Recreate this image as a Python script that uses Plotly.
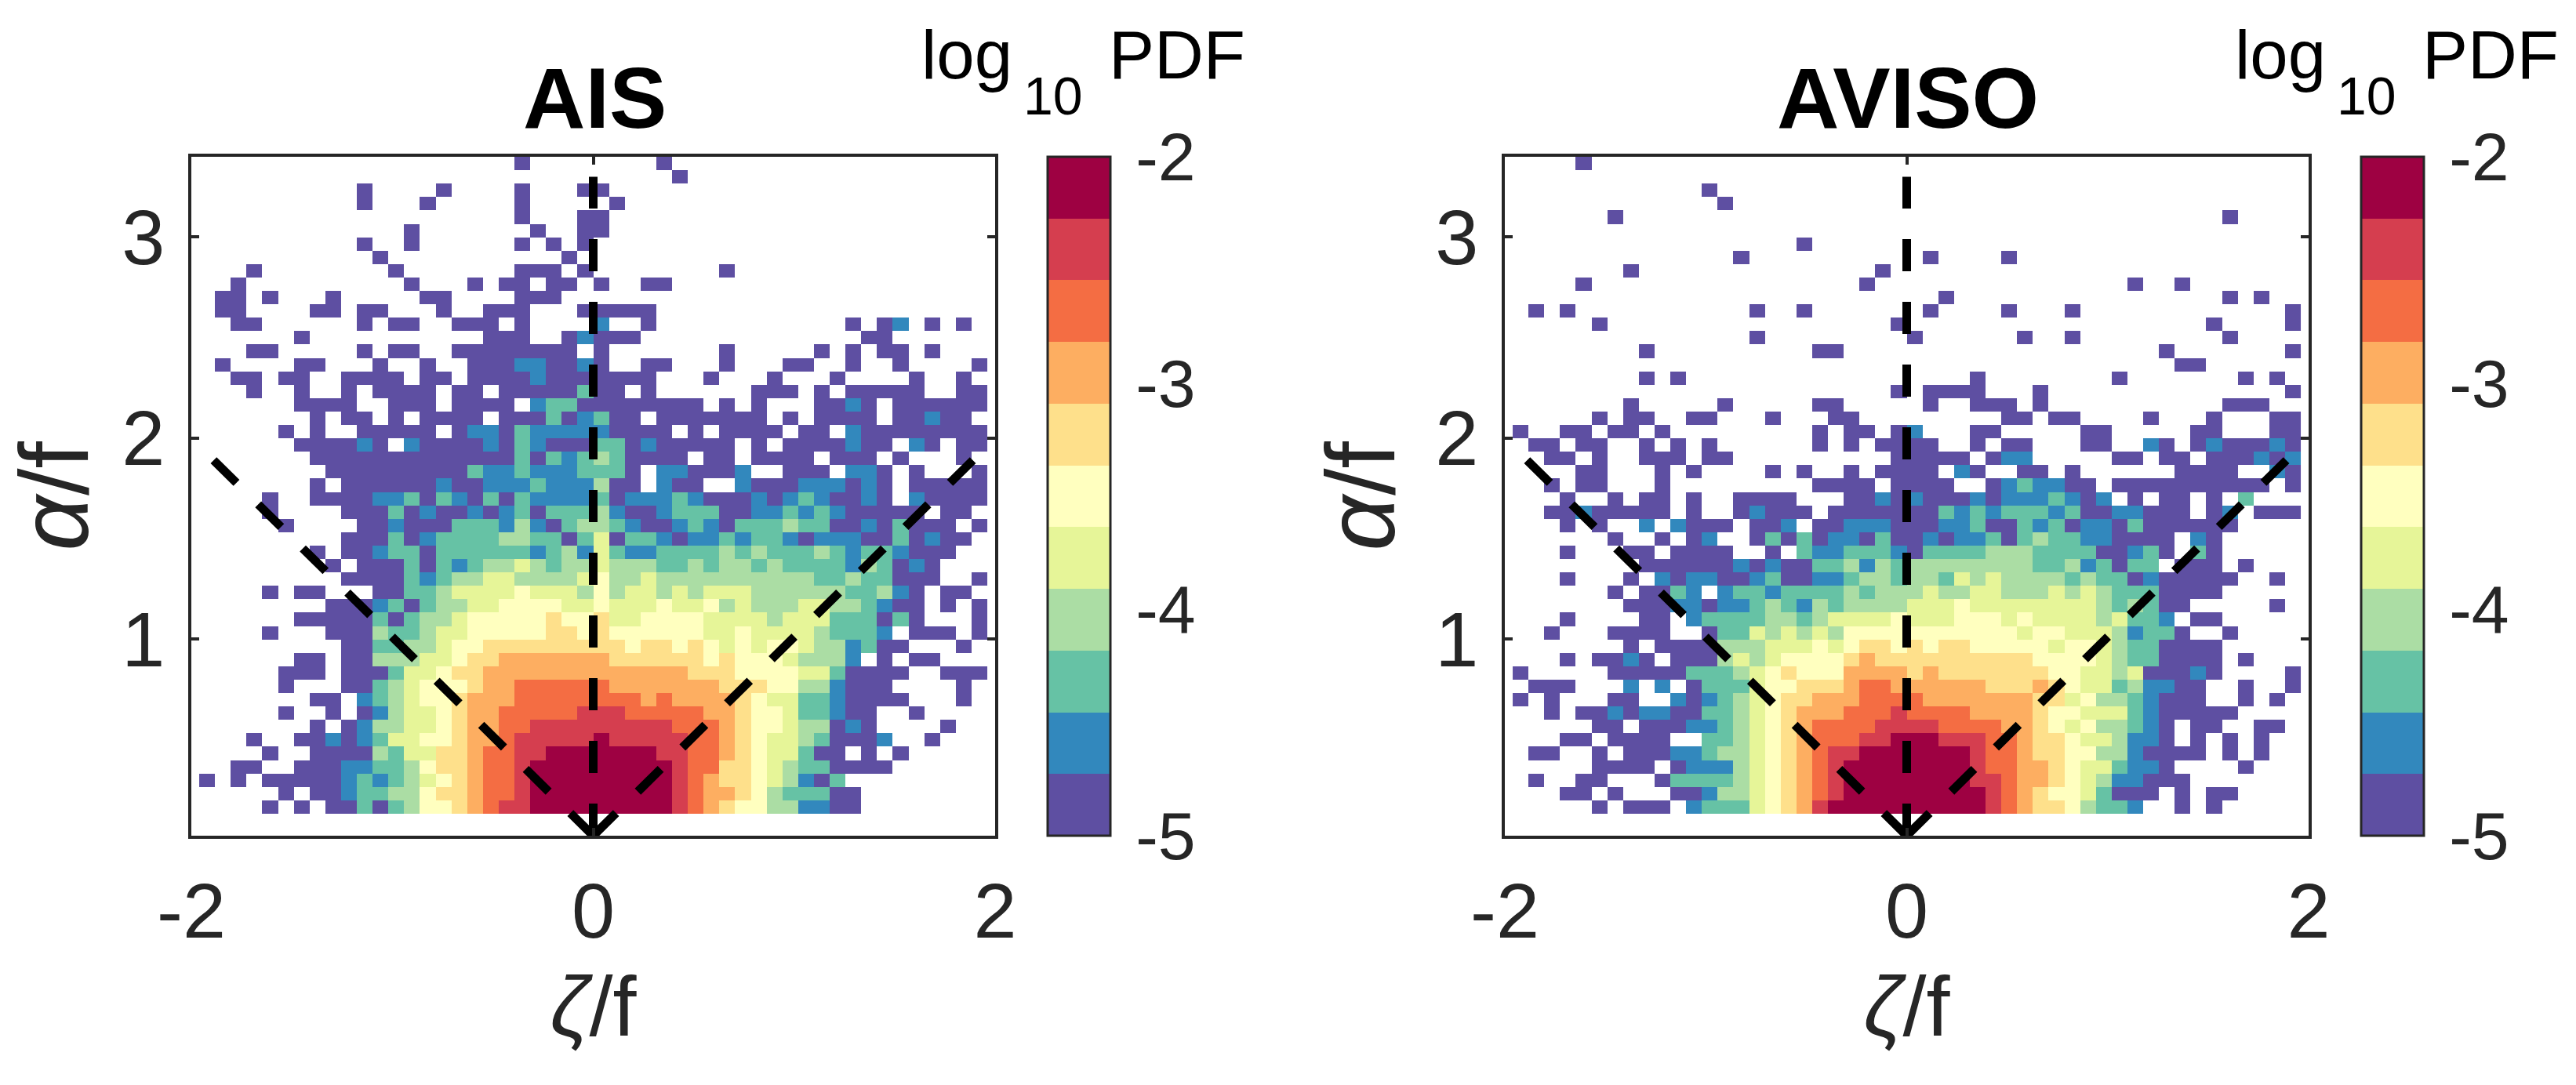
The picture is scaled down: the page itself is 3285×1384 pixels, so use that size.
import numpy as np
import plotly.graph_objects as go

W, H = 3285, 1384

# level per cell, top row first: . empty, 0 purple ... 9 red, a crimson
AIS_ROWS = [
    "..... ..... ..... ..... 0.... ....0 ..... ..... ..... .....",
    "..... ..... ..... ..... ..... ..... 0.... ..... ..... .....",
    "..... ..... 0.... 0.... 0...0 0.... ..... ..... ..... .....",
    "..... ..... 0...0 ..... 0.... .0... ..... ..... ..... .....",
    "..... ..... ..... ..... 0...0 0.... ..... ..... ..... .....",
    "..... ..... ...0. ..... .0..0 0.... ..... ..... ..... .....",
    "..... ..... 0..0. ..... 0.0.0 ..... ..... ..... ..... .....",
    "..... ..... .0... ..... ...0. ..... ..... ..... ..... .....",
    "...0. ..... ..0.. ..... 000.0 ..... ...0. ..... ..... .....",
    "..0.. ..... ...0. ..0.0 0.00. 0..00 ..... ..... ..... .....",
    ".00.0 ...0. ....0 0.... 000.. ..... ..... ..... ..... .....",
    ".00.. ..00. 00... 0..00 0...0 0000. ..... ..... ..... .....",
    "..00. ..... 0.00. .000. 0.... 1..0. ..... ..... .0.01 .0.0.",
    "..... .0... ..... ...00 0..01 000.. ..... ..... ..00. .....",
    "...00 ..... 0.00. .0000 0000. 0.... ...0. ....0 .0.00 .0...",
    ".0... .00.. .0..0 ..000 11001 0..00 ...0. ..00. .0..0 ....0",
    "..00. 00..0 000.0 0.000 01000 0000. ..0.. .0... 0.... 0..0.",
    "...0. .0..0 .0000 .00.0 00002 00.0. ..... 000.0 .0000 0..00",
    "..... .0000 ..000 .0000 .1220 00000 00.0. 0...0 010.0 00000",
    "..... ..0.0 0.0.0 000.0 00201 200.0 00000 0.0.0 000.0 0100.",
    "..... 0.0.. 00000 .0110 21111 10000 .0.00 00.00 .1000 00000",
    "..... .0000 10.10 00010 21000 22010 0000. 0.000 0100. 10.00",
    "..... ..000 00000 00000 20212 32000 0.00. 0000. 000.0 ...0.",
    "..... ...00 00000 00211 21112 220.1 10001 ..000 .110. 0...0",
    "..... ..0.0 00000 10011 12111 300.1 00..1 00011 1010. 00000",
    "....0 ..000 01120 21020 21111 20111 21000 10121 0010. 10000",
    "....0 ....0 00201 00101 20222 31001 22200 11212 10000 0.00.",
    "..... 0.... 00100 02221 31023 32100 12102 22322 00102 000.0",
    "..... ....0 00201 22223 32202 40221 01121 22101 11002 0100.",
    "..... ..0.0 01220 22222 21231 42112 22232 32223 21221 000..",
    "..... ...0. 00020 21233 43233 43332 23233 23222 21320 10...",
    "..... ....0 00021 23344 33334 53343 33333 33332 23220 00..0",
    "....0 .00.. .0022 34444 54443 53443 43444 33333 32231 0.00.",
    "..... ...00 01202 33445 55544 54445 44534 33344 33210 0.0.0",
    "..... .0000 02023 34555 55655 64455 55444 43444 22202 0...0",
    "....0 ...00 03223 44555 55665 65555 55445 44443 2221. 000.0",
    "..... ....0 02233 45566 66666 66566 56545 45543 31200 ...0.",
    "..... .00.0 03334 45667 77777 76666 66565 55433 31.0. 00...",
    "..... 000.0 00244 56677 77777 77777 76665 55544 20000 ..000",
    "..... 0...0 02345 55677 88888 87777 77766 65533 1000. ...0.",
    "..... ..00. 12345 56777 88888 88878 77776 54422 10000 ...0.",
    "..... 0..0. 01344 56778 88889 99888 88776 55422 100.. 0....",
    "..... ..0.0 13344 56778 89999 99999 88876 55433 010.. ..0..",
    "...0. .0010 12445 56778 99999 a9999 98876 54432 0001. .0...",
    "....0 ..000 03244 66788 99aaa aaaa9 98876 54420 0.0.0 .....",
    "..00. .0001 12235 66788 9aaaa aaaaa 98866 54322 0000. .....",
    "0.0.0 00001 21234 56788 9aaaa aaaaa 98766 54310 2.... .....",
    "..... 0.001 22335 66788 9aaaa aaaaa 98776 53222 00... .....",
    "....0 .0.00 20235 56789 9aaaa aaaaa 98765 53311 00... .....",
]

AVISO_ROWS = [
    "....0 ..... ..... ..... ..... ..... ..... ..... ..... .....",
    "..... ..... ..... ..... ..... ..... ..... ..... ..... .....",
    "..... ..... ..0.. ..... ..... ..... ..... ..... ..... .....",
    "..... ..... ...0. ..... ..... ..... ..... ..... ..... .....",
    "..... .0... ..... ..... ..... ..... ..... ..... ..... 0....",
    "..... ..... ..... ..... ..... ..... ..... ..... ..... .....",
    "..... ..... ..... ...0. ..... ..... ..... ..... ..... .....",
    "..... ..... ....0 ..... ..... .0... .0... ..... ..... .....",
    "..... ..0.. ..... ..... ...0. ..... ..... ..... ..... .....",
    "....0 ..... ..... ..... ..0.. ..... ..... ....0 ..0.. .....",
    "..... ..... ..... ..... ..... ..0.. ..... ..... ..... 0.0..",
    ".0.0. ..... ..... 0..0. ..... .0... .0... 0.... ..... ....0",
    "..... 0.... ..... ..... ....0 ..... ..... ..... ....0 ....0",
    "..... ..... ..... 0.... ..... 0.... ..0.. 0.... ..... 0....",
    "..... ...0. ..... ....0 0.... ..... ..... ..... .0... ....0",
    "..... ..... ..... ..... ..... ..... ..... ..... ..00. .....",
    "..... ...0. 0.... ..... ..... ....0 ..... ...0. ..... .0.0.",
    "..... ..... ..... ..... ....0 .0000 ...0. ..... ..... ....0",
    "..... ..0.. ...0. ....0 0.... .0..0 00.0. ..... ..... 000..",
    "..... 0.00. .00.. .0... 00... ..... .00.0 0.... 0...0 ...00",
    "0..00 .00.0 ..... ....0 .00.0 1...0 0.... .00.. ...00 ...00",
    ".00.0 0..0. 0.0.. ....0 .0.00 00..0 .00.. .00.. 10.01 00010",
    "..00. 0..00 0.00. ..... ....0 0000. 011.. ...00 .00.0 00101",
    "....0 0...0 .0... .0.0. .0.00 00.10 ..00. 0.... ..000 0..10",
    "..0.0 0...0 ..... ....0 000.0 000.. 01211 00.00 00000 000.0",
    "...0. .0.00 .0..0 000.. .0010 10001 01112 101.0 .00.0 .2...",
    "..001 00000 .0..0 1000. 00000 00212 12221 20011 000.0 1.000",
    "...0. 0..1. 1000. 001.0 01110 00112 00212 01102 00000 0....",
    "..... .0..0 .01.. 02020 11020 01011 20232 21100 00.10 .....",
    "...0. ..00. 0000. .0.21 12221 02222 33322 22001 20.20 .....",
    "..... ...00 00001 01002 23132 33333 33322 31202 2.000 .0...",
    "...0. ..0.1 01100 12001 12332 33243 43333 23220 10000 0..0.",
    "..... .0.00 21.12 21222 23233 34334 43334 34322 20000 .....",
    "..... ..000 11011 23213 23333 44454 44444 44323 200.. ...0.",
    "...0. ...00 .1222 23323 44445 44455 54544 44342 21.00 .....",
    "..0.. .0000 ..022 43434 35555 55555 55455 44431 220.. 0....",
    "..... ..0.0 00033 34445 45665 65665 55554 55432 20000 .....",
    "...0. 0010. 00034 34555 56766 66666 66655 55432 20000 .0...",
    "0.... .0000 02223 45655 57777 67666 66665 54434 00010 ....0",
    ".000. ..1.1 .0222 45566 67887 77777 66676 54423 1100. .0..0",
    "0.0.. .00.. 10123 45667 77888 87777 77766 45332 1000. .0.0.",
    "..0.0 01011 00223 45677 78889 88887 77765 54442 10000 0....",
    "..... 00.00 01123 45678 88899 99888 87765 45332 10.00 ..00.",
    "...00 .0000 ..223 45678 8899a aa999 88766 54431 10.0. 0.0..",
    ".00.. 0.000 11233 45678 99aaa aaaa9 88766 55331 0000. 0.0..",
    "..... 0000. 01113 45678 9aaaa aaaa9 88776 54421 10... .0...",
    ".0..0 0...0 22223 45678 9aaaa aaaa9 98776 54311 000.. .....",
    "...00 .0... 00133 45678 9aaaa aaaaa 98765 54200 0.0.0 0....",
    "..... 0.000 .1222 45679 aaaaa aaaaa 98766 53221 ..0.0 .....",
]

LEVEL_COLORS = ["#5E4FA2", "#3288BD", "#66C2A5", "#ABDDA4", "#E6F598", "#FFFFBF",
                "#FEE08B", "#FDAE61", "#F46D43", "#D53E4F", "#9E0142"]
PDF_MIN, PDF_MAX = -5, -2
PDF_TICKS = [-5, -4, -3, -2]
PDF_TICK_LABELS = ["-5", "-4", "-3", "-2"]

X_TICKS = [-2, 0, 2]
X_TICK_LABELS = ["-2", "0", "2"]
Y_TICKS = [1, 2, 3]
Y_TICK_LABELS = ["1", "2", "3"]

# bin edges of the histogram
ZETA_EDGES = np.linspace(-1.9608, 1.9608, 51)
ALPHA_EDGES = np.linspace(0.129, 3.40, 50)

# dashed guide lines
VERT_X, VERT_Y = [0, 0], [0.02, 3.30]
LEFT_X, LEFT_Y = [0, -1.9], [0.02, 1.9]
RIGHT_X, RIGHT_Y = [0, 1.9], [0.02, 1.9]

PANELS = ["AIS", "AVISO"]
PANEL_SHIFT = 1675
INK = "#262626"
FONT = "Liberation Sans"


def rows_to_z(rows):
    z = []
    for row in rows[::-1]:
        cells = row.replace(" ", "")
        assert len(cells) == 50, row
        step = (PDF_MAX - PDF_MIN) / len(LEVEL_COLORS)
        z.append([None if c == "." else PDF_MIN + (int(c, 16) + 0.5) * step for c in cells])
    return z


def stepped_scale():
    n = len(LEVEL_COLORS)
    scale = []
    for i, color in enumerate(LEVEL_COLORS):
        scale.append([i / n, color])
        scale.append([(i + 1) / n, color])
    return scale


fig = go.Figure()
top, bottom = 200, 1066
annotations = []

for i, (name, rows) in enumerate(zip(PANELS, [AIS_ROWS, AVISO_ROWS])):
    shift = PANEL_SHIFT * i
    suffix = "" if i == 0 else "2"

    fig.add_trace(go.Heatmap(
        x=ZETA_EDGES,
        y=ALPHA_EDGES,
        z=rows_to_z(rows),
        zmin=PDF_MIN,
        zmax=PDF_MAX,
        colorscale=stepped_scale(),
        xaxis="x" + suffix,
        yaxis="y" + suffix,
        colorbar=dict(
            x=(1336 + shift) / W,
            xanchor="left",
            xpad=0,
            y=1 - top / H,
            yanchor="top",
            ypad=0,
            len=(bottom - top) / H,
            thickness=80,
            outlinecolor=INK,
            outlinewidth=3,
            tickmode="array",
            tickvals=PDF_TICKS,
            ticktext=PDF_TICK_LABELS,
            ticks="outside",
            ticklen=14,
            tickcolor="rgba(0,0,0,0)",
            tickfont=dict(size=86, color=INK, family=FONT),
        ),
    ))

    for gx, gy in [(VERT_X, VERT_Y), (LEFT_X, LEFT_Y), (RIGHT_X, RIGHT_Y)]:
        fig.add_trace(go.Scatter(
            x=gx, y=gy, mode="lines",
            line=dict(color="black", width=11, dash="41px,39px"),
            xaxis="x" + suffix, yaxis="y" + suffix,
            cliponaxis=False, showlegend=False, hoverinfo="skip",
        ))

    axis_common = dict(
        showline=True, linecolor=INK, linewidth=4, mirror="allticks",
        ticks="inside", ticklen=10, tickwidth=4, tickcolor=INK,
        showgrid=False, zeroline=False, tickmode="array",
        tickfont=dict(size=99, color=INK, family=FONT),
    )
    fig.update_layout({
        "xaxis" + suffix: dict(
            axis_common,
            domain=[(244 + shift) / W, (1269 + shift) / W],
            range=[-2, 2],
            anchor="y" + suffix,
            tickvals=X_TICKS,
            ticktext=X_TICK_LABELS,
            ticklabelstandoff=7,
            title=dict(text="<i>ζ</i>/f", font=dict(size=108, color=INK, family=FONT), standoff=31),
        ),
        "yaxis" + suffix: dict(
            axis_common,
            domain=[1 - bottom / H, 1 - top / H],
            range=[0.02, 3.4],
            anchor="x" + suffix,
            tickvals=Y_TICKS,
            ticktext=Y_TICK_LABELS,
            ticklabelstandoff=10,
            title=dict(text="<i>α</i>/f", font=dict(size=124, color=INK, family=FONT), standoff=11),
        ),
    })

    annotations.append(dict(
        text="<b>%s</b>" % name, x=(758 + shift) / W, y=1 - 124 / H,
        xref="paper", yref="paper", xanchor="center", yanchor="middle",
        showarrow=False, font=dict(size=110, color="black", family=FONT),
    ))
    for part, px, py, size in [("log", 1173, 70, 87), ("10", 1303, 122, 68), ("PDF", 1412, 70, 87)]:
        annotations.append(dict(
            text=part, x=(px + shift) / W, y=1 - py / H,
            xref="paper", yref="paper", xanchor="left", yanchor="middle",
            showarrow=False, font=dict(size=size, color="black", family=FONT),
        ))

fig.update_layout(
    width=W,
    height=H,
    margin=dict(l=0, r=0, t=0, b=0, pad=0, autoexpand=False),
    paper_bgcolor="white",
    plot_bgcolor="white",
    showlegend=False,
    annotations=annotations,
)

fig.write_html(
    "out.html",
    config={"displayModeBar": False},
    post_script="document.body.style.margin='0';",
)
